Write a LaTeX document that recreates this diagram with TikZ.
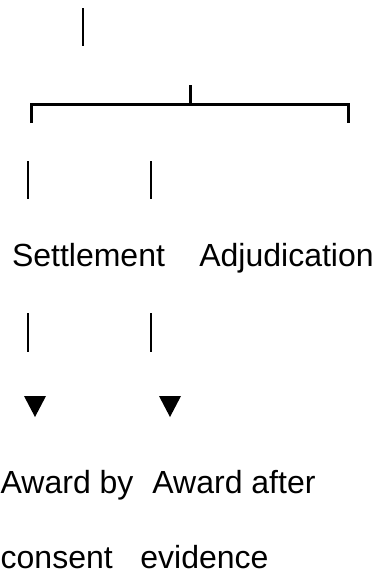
\documentclass[tikz,border=0pt]{standalone}
\usepackage{fontspec}
\setmainfont{Liberation Sans}
\usetikzlibrary{positioning}

\begin{document}
\begin{tikzpicture}[x=1pt,y=-1pt,
  word/.style={font=\fontsize{32}{38}\selectfont,inner sep=0pt,anchor=base},
  bar/.style={line width=2.4pt},
  brace/.style={line width=3pt},
  tip/.style={fill=black}]
  \useasboundingbox (0,0) rectangle (380,576);
  % stem and fork
  \draw[bar] (83,8) -- (83,46);
  \draw[brace] (190,85) -- (190,104);
  \draw[brace] (31,123) -- (31,104) -- (348,104) -- (348,123);
  \draw[bar] (28,161) -- (28,199);
  \draw[bar] (151,161) -- (151,199);
  % the two routes
  \node[word] (settle) at (88.5,266) {Settlement};
  \node[word] (adjud)  at (286.5,266) {Adjudication};
  \draw[bar] (28,313) -- (28,352);
  \draw[bar] (151,313) -- (151,352);
  \fill[tip] (24,396) -- (46,396) -- (35,417) -- cycle;
  \fill[tip] (159,396) -- (181,396) -- (170,417) -- cycle;
  % outcomes
  \node[word,anchor=base west] (consent1) at (0.5,493) {Award by};
  \node[word] (evidence1) at (234,493) {Award after};
  \node[word,anchor=base west] (consent2) at (0.5,568) {consent};
  \node[word] (evidence2) at (204.5,568) {evidence};
\end{tikzpicture}
\end{document}
